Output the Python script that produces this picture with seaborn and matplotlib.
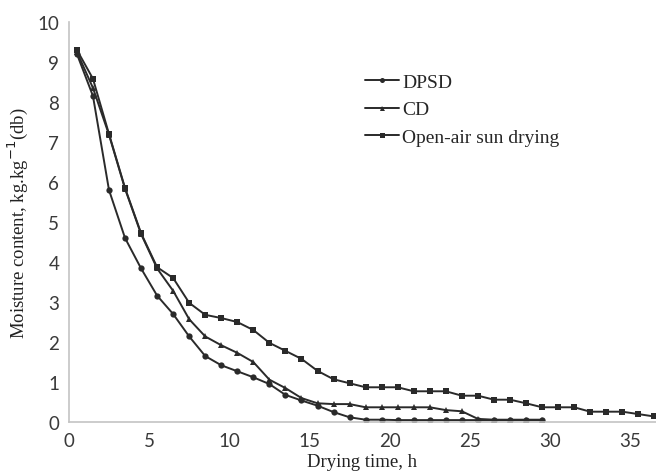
import matplotlib
matplotlib.use("Agg")
import matplotlib.pyplot as plt
import pandas as pd
import seaborn as sns

sns.set_style("white")

# hours (measurements taken every hour, mid-interval)
time_dpsd = [0.5 + i for i in range(30)]
time_cd = [0.5 + i for i in range(30)]
time_osd = [0.5 + i for i in range(37)]

dpsd = [9.2, 8.15, 5.8, 4.6, 3.84, 3.16, 2.7, 2.14, 1.65, 1.42,
        1.27, 1.12, 0.95, 0.68, 0.54, 0.41, 0.25, 0.12, 0.06, 0.06,
        0.05, 0.05, 0.05, 0.05, 0.05, 0.05, 0.05, 0.05, 0.05, 0.05]
cd = [9.25, 8.35, 7.18, 5.83, 4.7, 3.84, 3.28, 2.57, 2.14, 1.92,
      1.73, 1.5, 1.06, 0.85, 0.6, 0.47, 0.45, 0.45, 0.37, 0.37,
      0.37, 0.37, 0.37, 0.3, 0.27, 0.08, 0.06, 0.06, 0.06, 0.06]
osd = [9.3, 8.58, 7.2, 5.85, 4.72, 3.87, 3.6, 2.98, 2.68, 2.6,
       2.5, 2.3, 1.98, 1.78, 1.58, 1.28, 1.07, 0.97, 0.87, 0.87,
       0.87, 0.77, 0.77, 0.77, 0.66, 0.66, 0.56, 0.56, 0.47, 0.37,
       0.37, 0.37, 0.26, 0.26, 0.26, 0.2, 0.14]

labels = ["DPSD", "CD", "Open-air sun drying"]

df = pd.concat([
    pd.DataFrame({"t": time_dpsd, "mc": dpsd, "method": labels[0]}),
    pd.DataFrame({"t": time_cd, "mc": cd, "method": labels[1]}),
    pd.DataFrame({"t": time_osd, "mc": osd, "method": labels[2]}),
])

serif = ["Liberation Serif", "DejaVu Serif"]

fig = plt.figure(figsize=(6.56, 4.77), dpi=100)
ax = fig.add_axes([0.105, 0.113, 0.895, 0.839])
sns.lineplot(data=df, x="t", y="mc", hue="method", style="method",
             palette=["#2a2a2a"] * 3, markers=["o", "^", "s"], dashes=False,
             markersize=4.5, linewidth=1.4, markeredgewidth=0, ax=ax)
for line in ax.lines[2:3]:
    line.set_markersize(3.8)

ax.set_xlim(0, 36.6)
ax.set_ylim(0, 10)
ax.set_xticks(range(0, 36, 5))
ax.set_yticks(range(0, 11))
for s in ["top", "right"]:
    ax.spines[s].set_visible(False)
for s in ["left", "bottom"]:
    ax.spines[s].set_color("#c4c4c4")
    ax.spines[s].set_linewidth(1.2)
ax.tick_params(direction="out", length=4, color="#c4c4c4", labelsize=13.5,
               labelcolor="#3a3a3a", pad=3)
for lab in ax.get_xticklabels() + ax.get_yticklabels():
    lab.set_family(["Lato", "DejaVu Sans"])

ax.set_xlabel("Drying time, h", family=serif, fontsize=13.5, color="#222222", labelpad=3)
ax.set_ylabel("Moisture content, kg.kg$^{-1}$(db)", family=serif, fontsize=13.5,
              color="#222222", labelpad=5)

leg = ax.legend(loc="upper left", bbox_to_anchor=(0.475, 0.915), frameon=False,
                prop={"family": serif, "size": 14}, handlelength=1.75,
                handletextpad=0.15, labelspacing=0.5, markerscale=0.8)

fig.savefig("out.png", dpi=100)
